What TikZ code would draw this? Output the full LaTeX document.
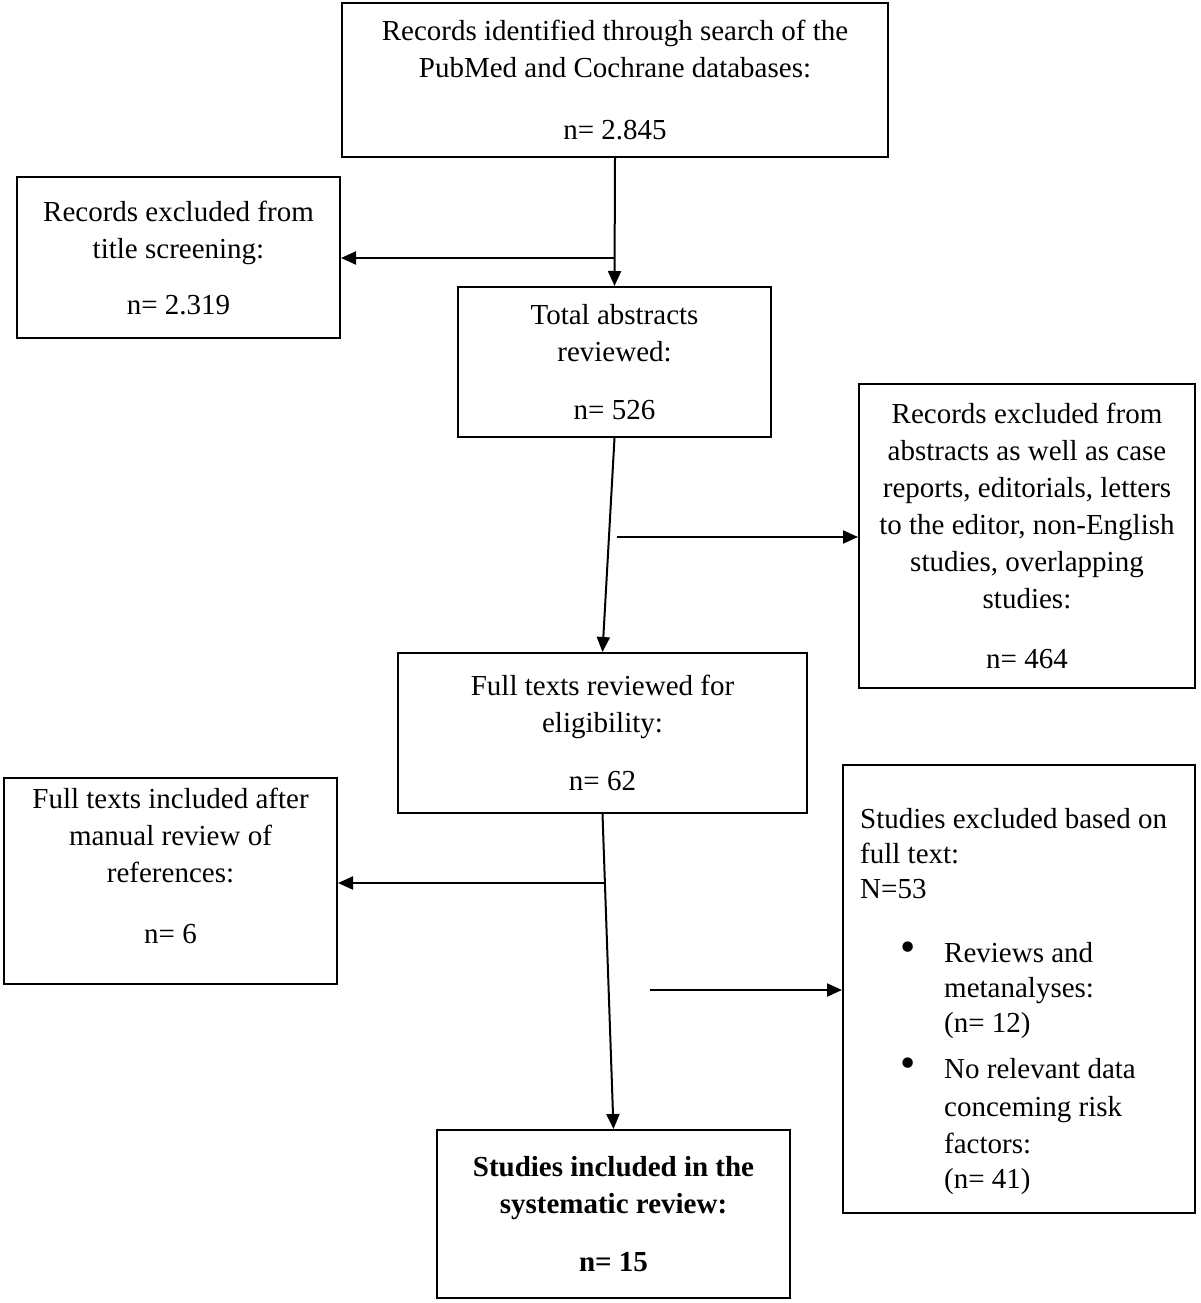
\documentclass[tikz,border=0pt]{standalone}
\usepackage{fontspec}
\usepackage{graphicx}
\setmainfont{Liberation Serif}
\usetikzlibrary{arrows.meta}
\newcommand{\bigdot}{\raisebox{1pt}{\scalebox{1.5}{\textbullet}}}
\begin{document}
\begin{tikzpicture}[x=1pt,y=-1pt,
  box/.style={draw, line width=2pt, inner sep=0pt, align=center,
    font=\fontsize{29}{37}\selectfont},
  conn/.style={line width=2pt},
  arr/.style={conn, -{Triangle[length=15pt,width=13pt]}}]
\useasboundingbox (0,0) rectangle (1200,1303);
\node[box, minimum width=546pt, minimum height=154pt] (b1) at (615,80)
  {Records identified through search of the\\PubMed and Cochrane databases:\\[25pt]n= 2.845};
\node[box, minimum width=323pt, minimum height=161pt] (b2) at (178.5,257.5)
  {Records excluded from\\title screening:\\[19pt]n= 2.319};
\node[box, minimum width=313pt, minimum height=150pt] (b3) at (614.5,362)
  {Total abstracts\\reviewed:\\[21pt]n= 526};
\node[box, minimum width=336pt, minimum height=304pt] (b4) at (1027,536)
  {Records excluded from\\abstracts as well as case\\reports, editorials, letters\\to the editor, non-English\\studies, overlapping\\studies:\\[23pt]n= 464};
\node[box, minimum width=409pt, minimum height=160pt] (b5) at (602.5,733)
  {Full texts reviewed for\\eligibility:\\[21pt]n= 62};
\node[box, minimum width=333pt, minimum height=206pt] (b6) at (170.5,881)
  {Full texts included after\\manual review of\\references:\\[24pt]n= 6\\[-6pt]\mbox{}};
\node[box, minimum width=352pt, minimum height=448pt] (b7) at (1019,989) {};
\node[inner sep=0pt, anchor=north west, align=left, font=\fontsize{29}{35}\selectfont] (b7t) at (860,808)
  {Studies excluded based on\\full text:\\N=53\\[29pt]%
   \hspace*{40pt}\makebox[44pt][l]{\bigdot}Reviews and\\
   \hspace*{84pt}metanalyses:\\
   \hspace*{84pt}(n= 12)\\[11pt]
   \hspace*{40pt}\makebox[44pt][l]{\bigdot}No relevant data\\[3pt]
   \hspace*{84pt}conceming risk\\[2pt]
   \hspace*{84pt}factors:\\
   \hspace*{84pt}(n= 41)};
\node[box, minimum width=353pt, minimum height=168pt, font=\fontsize{29}{37}\selectfont\bfseries] (b8) at (613.5,1214)
  {Studies included in the\\systematic review:\\[21pt]n= 15};
% connectors
\draw[arr] (b1.south) -- (b3.north);
\coordinate (j1) at (615,258);
\draw[arr] (j1) -- (j1 -| b2.east);
\draw[arr] (b3.south) -- (b5.north);
\coordinate (j2) at (617,537);
\draw[arr] (j2) -- (j2 -| b4.west);
\draw[arr] (b5.south) -- (b8.north);
\coordinate (j3) at (604,883);
\draw[arr] (j3) -- (j3 -| b6.east);
\coordinate (j4) at (650,990);
\draw[arr] (j4) -- (j4 -| b7.west);
\end{tikzpicture}
\end{document}
